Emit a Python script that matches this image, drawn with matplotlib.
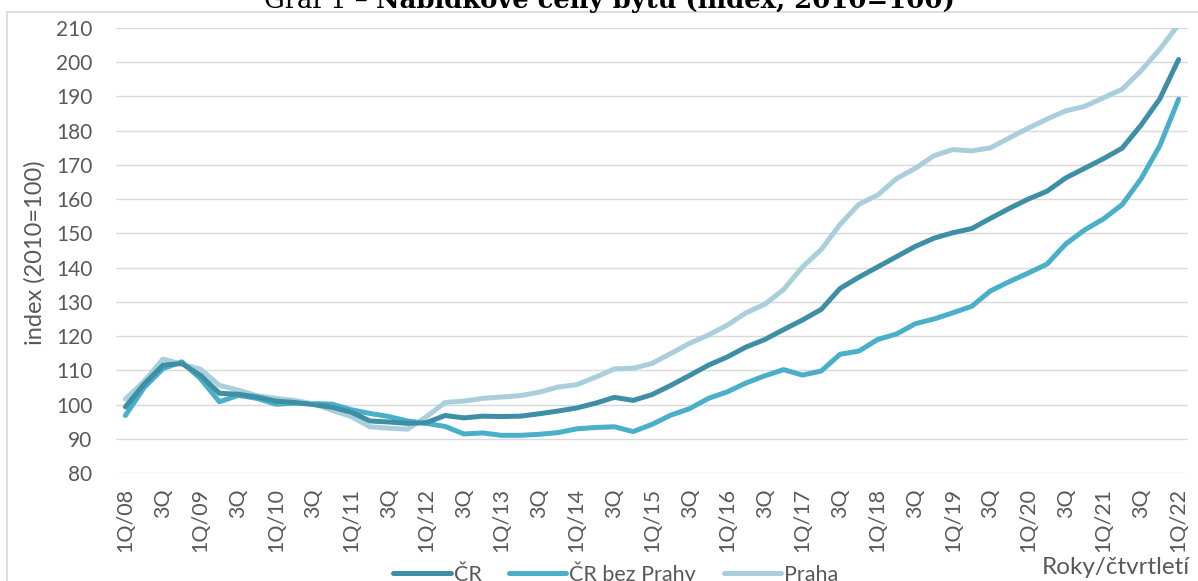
import matplotlib
matplotlib.use("Agg")
import matplotlib.pyplot as plt
from matplotlib.lines import Line2D

# ---- data ----
years = list(range(8, 23))
quarters = []
for y in years:
    for q in range(1, 5):
        if y == 22 and q > 1:
            break
        quarters.append(f"{q}Q/{y:02d}")

tick_labels = []
for lab in quarters:
    if lab.startswith("1Q"):
        tick_labels.append(lab)
    elif lab.startswith("3Q"):
        tick_labels.append("3Q")
    else:
        tick_labels.append("")

cr = [99.3, 106.0, 111.5, 112.0, 108.5, 103.3, 103.0, 102.2, 101.0, 100.6,
      100.0, 99.2, 97.8, 95.2, 94.9, 94.5, 94.7, 96.8, 96.1, 96.6,
      96.5, 96.6, 97.3, 98.1, 99.0, 100.4, 102.1, 101.2, 102.9, 105.6,
      108.5, 111.5, 113.9, 116.8, 119.0, 121.9, 124.7, 127.8, 133.9, 137.2,
      140.2, 143.2, 146.2, 148.6, 150.2, 151.4, 154.4, 157.3, 160.0, 162.3,
      166.2, 169.0, 171.8, 174.9, 181.6, 189.3, 200.8]

cr_bez_prahy = [96.8, 105.0, 110.5, 112.5, 107.5, 100.8, 102.7, 101.8, 100.1, 100.4,
                100.3, 100.1, 98.5, 97.4, 96.5, 95.2, 94.5, 93.6, 91.4, 91.7,
                91.0, 91.0, 91.3, 91.8, 92.9, 93.3, 93.5, 92.1, 94.2, 96.9,
                98.8, 101.8, 103.7, 106.3, 108.4, 110.2, 108.6, 109.8, 114.7, 115.6,
                119.0, 120.6, 123.6, 125.0, 126.8, 128.7, 133.2, 135.9, 138.4, 141.0,
                146.9, 151.0, 154.2, 158.4, 165.9, 175.6, 189.2]

praha = [101.6, 106.8, 113.3, 111.8, 110.3, 105.6, 104.2, 102.6, 101.8, 101.2,
         100.2, 98.3, 96.5, 93.5, 93.1, 92.8, 96.4, 100.6, 101.0, 101.8,
         102.2, 102.6, 103.6, 105.1, 105.8, 108.0, 110.4, 110.6, 112.0, 114.9,
         117.9, 120.3, 123.2, 126.8, 129.3, 133.6, 140.2, 145.3, 152.6, 158.5,
         161.2, 166.0, 169.0, 172.7, 174.5, 174.1, 175.0, 177.9, 180.7, 183.4,
         185.8, 187.1, 189.6, 192.1, 197.5, 203.8, 211.0]

series_names = ["ČR", "ČR bez Prahy", "Praha"]
colors = ["#3e8fa6", "#4aafc8", "#a9cfdc"]
y_ticks = list(range(80, 211, 10))

title_a = "Graf 1 – "
title_b = "Nabídkové ceny bytů (index, 2010=100)"

# ---- figure ----
W, H = 1198, 581
fig = plt.figure(figsize=(W / 100, H / 100), dpi=100)
plt.rcParams['font.family'] = ['Lato', 'DejaVu Sans']
TXT = '#595959'

ax = fig.add_axes([116 / W, 1 - 473 / H, (1188 - 116) / W, (473 - 28) / H])
x = list(range(len(quarters)))
lines = []
for vals, name, c in zip([cr, cr_bez_prahy, praha], series_names, colors):
    ln, = ax.plot(x, vals, color=c, lw=3.6, label=name,
                  solid_capstyle='round', solid_joinstyle='round')
    lines.append(ln)
lines[0].set_zorder(4)

ax.set_ylim(80, 210)
ax.set_xlim(-0.5, len(quarters) - 1 + 0.5)
ax.set_yticks(y_ticks)
ax.set_yticklabels([str(v) for v in y_ticks])
ax.set_xticks(x)
ax.set_xticklabels(tick_labels, rotation=90, va='top', ha='center')
ax.tick_params(axis='both', length=0, colors=TXT)
ax.tick_params(axis='y', pad=17, labelsize=15)
ax.tick_params(axis='x', pad=11, labelsize=15.5)
ax.grid(axis='y', color='#d9d9d9', lw=1.0)
ax.set_axisbelow(True)
for s in ax.spines.values():
    s.set_visible(False)

# y axis label
fig.text(35 / W, 1 - 253 / H, "index (2010=100)", rotation=90, ha='center',
         va='center', fontsize=17, color=TXT)

# x axis title
fig.text(1190 / W, 1 - 574 / H, "Roky/čtvrtletí", ha='right', va='baseline',
         fontsize=17.5, color=TXT)

# legend
fig.legend(handles=lines, labels=series_names, loc='center',
           bbox_to_anchor=(616 / W, 1 - 573 / H), ncol=3, frameon=False,
           fontsize=15.5, handlelength=2.65, handletextpad=0.14,
           columnspacing=1.3, labelcolor=TXT, borderpad=0)

# chart frame
fig.add_artist(Line2D([7 / W, 7 / W], [1 - 12 / H, 0], transform=fig.transFigure,
                      color='#d9d9d9', lw=1.2))
fig.add_artist(Line2D([7 / W, 1], [1 - 12 / H, 1 - 12 / H], transform=fig.transFigure,
                      color='#d9d9d9', lw=1.2))

# title (clipped at top) – scale font so that it spans the same width
fs = 20
ta = fig.text(264 / W, 1 - 8 / H, title_a, ha='left', va='baseline',
              fontsize=fs, family='DejaVu Serif', color='black')
tb = fig.text(0.5, 1 - 8 / H, title_b, ha='left', va='baseline',
              fontsize=fs, family='DejaVu Serif', fontweight='bold', color='black')
fig.canvas.draw()
r = fig.canvas.get_renderer()
wa = ta.get_window_extent(r).width
wb = tb.get_window_extent(r).width
fs2 = fs * 690 / (wa + wb)
ta.set_fontsize(fs2)
tb.set_fontsize(fs2)
fig.canvas.draw()
bb = ta.get_window_extent(r)
tb.set_x(bb.x1 / W)

fig.savefig("out.png", dpi=100)
